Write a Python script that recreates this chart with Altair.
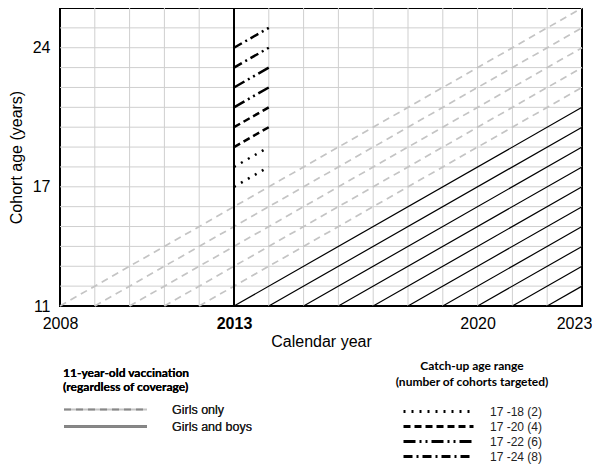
import altair as alt
import pandas as pd

# ---- data ----
# 11-year-old vaccination cohorts (start at age 11, followed to 2023)
girls_only_start_year = [2008, 2009, 2010, 2011, 2012]
girls_only_end_age = [26, 25, 24, 23, 22]
girls_boys_start_year = [2013, 2014, 2015, 2016, 2017, 2018, 2019, 2020, 2021, 2022]
girls_boys_end_age = [21, 20, 19, 18, 17, 16, 15, 14, 13, 12]
cohort_start_age = 11
cohort_end_year = 2023
vacc_labels = ["Girls only", "Girls and boys"]

# Catch-up cohorts in 2013 -> 2014
catchup_start_age = [17, 18, 19, 20, 21, 22, 23, 24]
catchup_end_age = [18, 19, 20, 21, 22, 23, 24, 25]
catchup_labels = ["17 -18 (2)", "17 -20 (4)", "17 -22 (6)", "17 -24 (8)"]
catchup_group = ["17 -18 (2)", "17 -18 (2)", "17 -20 (4)", "17 -20 (4)",
                 "17 -22 (6)", "17 -22 (6)", "17 -24 (8)", "17 -24 (8)"]
catchup_start_year = 2013
catchup_end_year = 2014

policy_year = [2013]

# light grid lines (one per year / per age) and the labelled ticks
x_grid = [2009, 2010, 2011, 2012, 2014, 2015, 2016, 2017, 2018, 2019, 2020, 2021, 2022]
y_grid = [12, 13, 14, 15, 16, 17, 18, 19, 20, 21, 22, 23, 24, 25]
x_labels = [2008, 2013, 2020, 2023]
y_labels = [11, 17, 24]
x_domain = [2008, 2023]
y_domain = [11, 26]

# ---- tables ----
go_df = pd.DataFrame({
    "x": girls_only_start_year,
    "x2": [cohort_end_year] * len(girls_only_start_year),
    "y": [cohort_start_age] * len(girls_only_start_year),
    "y2": girls_only_end_age,
    "group": [vacc_labels[0]] * len(girls_only_start_year),
})
gb_df = pd.DataFrame({
    "x": girls_boys_start_year,
    "x2": [cohort_end_year] * len(girls_boys_start_year),
    "y": [cohort_start_age] * len(girls_boys_start_year),
    "y2": girls_boys_end_age,
    "group": [vacc_labels[1]] * len(girls_boys_start_year),
})
vacc_df = pd.concat([go_df, gb_df], ignore_index=True)
catch_df = pd.DataFrame({
    "x": [catchup_start_year] * len(catchup_start_age),
    "x2": [catchup_end_year] * len(catchup_start_age),
    "y": catchup_start_age,
    "y2": catchup_end_age,
    "group": catchup_group,
})
policy_df = pd.DataFrame({"x": policy_year})
xgrid_df = pd.DataFrame({"x": x_grid})
ygrid_df = pd.DataFrame({"y": y_grid})

FONT = "Liberation Sans"
GRID = "#cfcfcf"

xscale = alt.Scale(domain=x_domain, nice=False, zero=False)
yscale = alt.Scale(domain=y_domain, nice=False, zero=False)

xaxis = alt.Axis(
    values=x_labels, format="d", title="Calendar year",
    labelFontWeight={"condition": {"test": "datum.value == 2013", "value": "bold"}, "value": "normal"},
    labelOffset={"condition": {"test": "datum.value == 2023", "value": -8}, "value": 0},
    labelFlush=False, labelOverlap=False, labelPadding=9, titlePadding=2,
)
yaxis = alt.Axis(
    values=y_labels, format="d", title="Cohort age (years)",
    labelFlush=False, labelOverlap=False, labelPadding=10, titlePadding=8,
)

leg1 = alt.Legend(
    title=["11-year-old vaccination", "(regardless of coverage)"],
    orient="none", legendX=3, legendY=360, padding=0,
    symbolType="stroke", symbolSize=83 * 83, symbolStrokeWidth=2, symbolOpacity=1,
    clipHeight=15, rowPadding=2, labelOffset=24,
    labelFont=FONT, labelFontSize=12.5, labelColor="#222222",
    titleFont="Lato", titleFontSize=12, titleFontWeight="bold", titleColor="black",
    titleLineHeight=14, titleAnchor="start", titleAlign="left", titlePadding=8,
)
leg2 = alt.Legend(
    title=["Catch-up age range", "(number of cohorts targeted)"],
    orient="none", legendX=335, legendY=353, padding=0,
    symbolType="stroke", symbolSize=70 * 70, symbolStrokeWidth=3, symbolStrokeColor="black",
    symbolOpacity=1,
    clipHeight=13, rowPadding=2, labelOffset=15,
    labelFont=FONT, labelFontSize=12, labelColor="#222222",
    titleFont="Lato", titleFontSize=12, titleFontWeight="bold", titleColor="black",
    titleLineHeight=16, titleAnchor="middle", titleAlign="center", titlePadding=16,
)

color_scale = alt.Scale(domain=vacc_labels, range=["#c4c4c4", "#000000"])
dash_scale = alt.Scale(domain=vacc_labels, range=[[7, 5], [1000, 0]])

xgrid = alt.Chart(xgrid_df).mark_rule(color=GRID, strokeWidth=1).encode(
    x=alt.X("x:Q", scale=xscale, axis=xaxis)
)
ygrid = alt.Chart(ygrid_df).mark_rule(color=GRID, strokeWidth=1).encode(
    y=alt.Y("y:Q", scale=yscale, axis=yaxis)
)

# layer that owns the legend for the 11-year-old vaccination lines (draws nothing)
vacc_legend = alt.Chart(vacc_df).transform_filter("false").mark_rule(strokeWidth=2).encode(
    x="x:Q", x2="x2:Q", y="y:Q", y2="y2:Q",
    color=alt.Color("group:N", scale=color_scale, legend=leg1),
    strokeDash=alt.StrokeDash("group:N", scale=dash_scale, legend=leg1),
)
girls_only = alt.Chart(go_df).mark_rule(strokeWidth=1.7).encode(
    x="x:Q", x2="x2:Q", y="y:Q", y2="y2:Q",
    color=alt.Color("group:N", scale=color_scale, legend=None),
    strokeDash=alt.StrokeDash("group:N", scale=dash_scale, legend=None),
)
girls_boys = alt.Chart(gb_df).mark_rule(strokeWidth=1.2).encode(
    x="x:Q", x2="x2:Q", y="y:Q", y2="y2:Q",
    color=alt.Color("group:N", scale=color_scale, legend=None),
    strokeDash=alt.StrokeDash("group:N", scale=dash_scale, legend=None),
)

catch = alt.Chart(catch_df).mark_rule(color="black", strokeWidth=2.5, strokeCap="butt").encode(
    x="x:Q", x2="x2:Q", y="y:Q", y2="y2:Q",
    strokeDash=alt.StrokeDash(
        "group:N",
        scale=alt.Scale(domain=catchup_labels,
                        range=[[2, 6], [7, 4], [12, 4, 2, 4, 2, 4], [9, 4, 2, 4]]),
        legend=leg2,
    ),
)

policy = alt.Chart(policy_df).mark_rule(color="black", strokeWidth=2).encode(x="x:Q")

chart = alt.layer(xgrid, ygrid, vacc_legend, girls_only, girls_boys, catch, policy).resolve_scale(
    strokeDash="independent"
).properties(
    width=522, height=298,
    autosize="none",
    padding={"left": 52, "top": 0, "right": 10, "bottom": 161},
).configure_view(
    stroke="black", strokeWidth=2
).configure_axis(
    grid=False, ticks=False, domain=False,
    labelFont=FONT, labelFontSize=16, labelColor="black",
    titleFont=FONT, titleFontSize=16, titleFontWeight="normal", titleColor="black",
)

chart.save("out.html", embed_options={"renderer": "svg", "actions": False})
